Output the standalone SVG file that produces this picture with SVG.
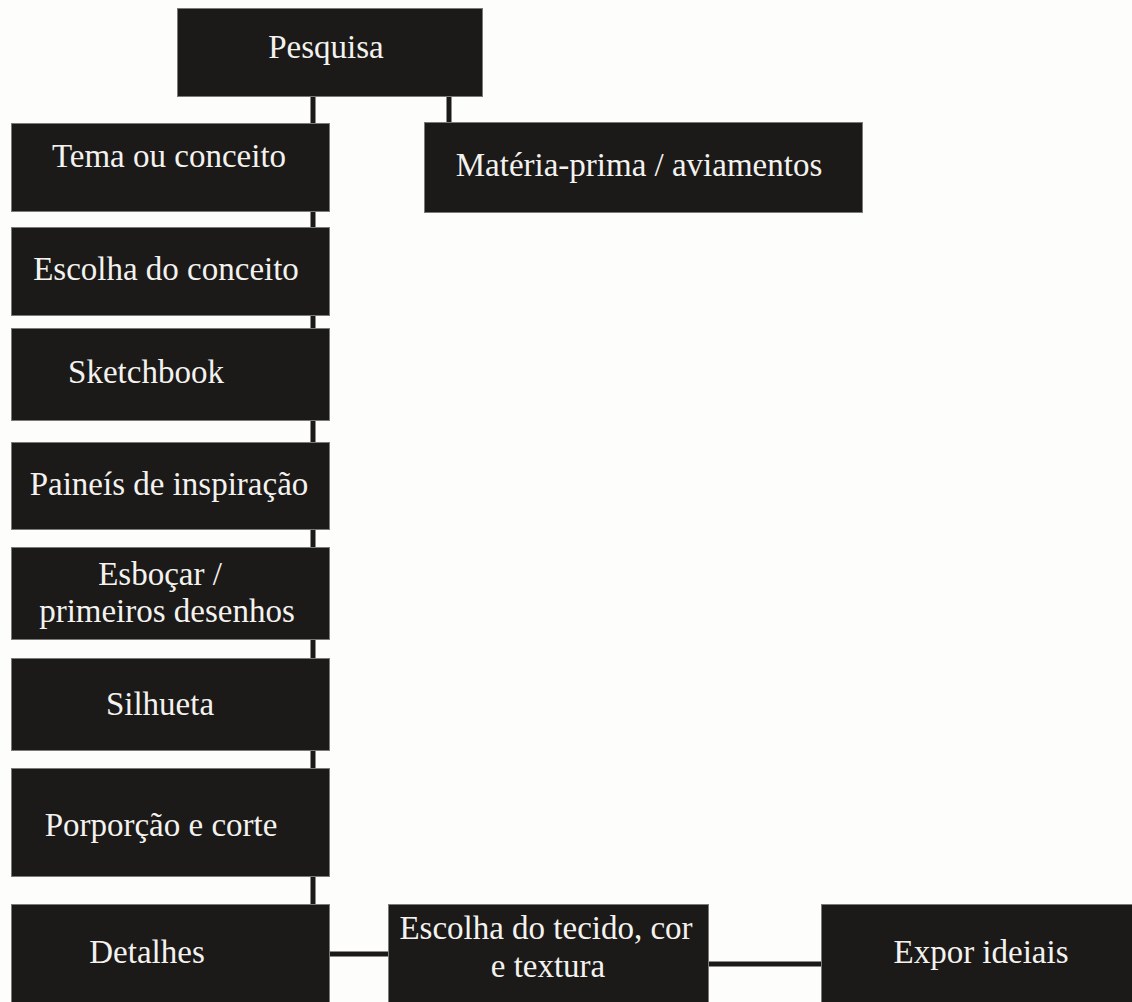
<svg xmlns="http://www.w3.org/2000/svg" width="1132" height="1002" viewBox="0 0 1132 1002">
<style>
.bg{fill:#fdfdfb}
.box{fill:#1b1a19;stroke:#7a7a78;stroke-width:1}
.lbl{font-family:"Liberation Serif","Times New Roman",serif;font-size:33px;fill:#f4f2ee;text-anchor:middle}
.con{stroke:#1b1a19;stroke-width:5;fill:none}
</style>
<rect class="bg" x="0" y="0" width="1132" height="1002"/>
<g id="connectors">
<line class="con" x1="313" y1="96" x2="313" y2="904"/>
<line class="con" x1="449" y1="96" x2="449" y2="122"/>
<line class="con" x1="330" y1="954" x2="388" y2="954"/>
<line class="con" x1="709" y1="964" x2="821" y2="964"/>
</g>
<g id="pesquisa"><rect class="box" x="177.5" y="8.5" width="305" height="88"/><text class="lbl" x="326" y="58">Pesquisa</text></g>
<g id="tema"><rect class="box" x="11.5" y="123.5" width="318" height="88"/><text class="lbl" x="169" y="167">Tema ou conceito</text></g>
<g id="materia"><rect class="box" x="424.5" y="122.5" width="438" height="90"/><text class="lbl" x="639" y="176">Matéria-prima / aviamentos</text></g>
<g id="escolha-conceito"><rect class="box" x="11.5" y="227.5" width="318" height="88"/><text class="lbl" x="166" y="280">Escolha do conceito</text></g>
<g id="sketchbook"><rect class="box" x="11.5" y="328.5" width="318" height="92"/><text class="lbl" x="146" y="383">Sketchbook</text></g>
<g id="paineis"><rect class="box" x="11.5" y="442.5" width="318" height="87"/><text class="lbl" x="169" y="495">Paineís de inspiração</text></g>
<g id="esbocar"><rect class="box" x="11.5" y="547.5" width="318" height="92"/><text class="lbl" x="160" y="585">Esboçar /</text><text class="lbl" x="167" y="622">primeiros desenhos</text></g>
<g id="silhueta"><rect class="box" x="11.5" y="658.5" width="318" height="92"/><text class="lbl" x="160" y="715">Silhueta</text></g>
<g id="porporcao"><rect class="box" x="11.5" y="768.5" width="318" height="108"/><text class="lbl" x="161" y="836">Porporção e corte</text></g>
<g id="detalhes"><rect class="box" x="11.5" y="904.5" width="318" height="110"/><text class="lbl" x="147" y="963">Detalhes</text></g>
<g id="escolha-tecido"><rect class="box" x="388.5" y="904.5" width="320" height="110"/><text class="lbl" x="546" y="939">Escolha do tecido, cor</text><text class="lbl" x="548" y="977">e textura</text></g>
<g id="expor"><rect class="box" x="821.5" y="904.5" width="320" height="110"/><text class="lbl" x="981" y="963">Expor ideiais</text></g>
</svg>
